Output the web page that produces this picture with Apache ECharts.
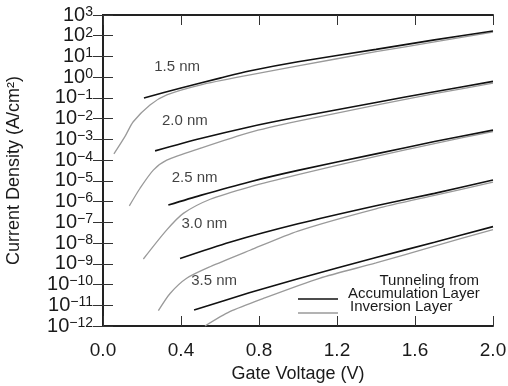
<!DOCTYPE html>
<html>
<head>
<meta charset="utf-8">
<script src="https://cdn.jsdelivr.net/npm/echarts@6/dist/echarts.min.js"></script>
<style>
html,body{margin:0;padding:0;background:#fff;}
#chart{width:508px;height:386px;}
</style>
</head>
<body>
<div id="chart"></div>
<script>
// oxide thickness labels
var thickness = ['1.5 nm', '2.0 nm', '2.5 nm', '3.0 nm', '3.5 nm'];

// accumulation layer (black), gate voltage V / current density A/cm2
var accV15 = [0.21, 0.4, 0.6, 0.75, 1.0, 1.4, 1.7, 2.0];
var accJ15 = [1.0e-1, 3.0e-1, 9.0e-1, 2.0, 5.6, 22, 63, 170];
var accV20 = [0.267, 0.5, 0.75, 1.0, 1.4, 1.7, 2.0];
var accJ20 = [2.8e-4, 1.1e-3, 4.0e-3, 1.2e-2, 6.0e-2, 2.0e-1, 6.3e-1];
var accV25 = [0.335, 0.5, 0.75, 1.0, 1.4, 1.7, 2.0];
var accJ25 = [6.8e-7, 2.0e-6, 8.9e-6, 3.2e-5, 2.0e-4, 7.9e-4, 2.8e-3];
var accV30 = [0.395, 0.65, 1.0, 1.4, 1.7, 2.0];
var accJ30 = [1.8e-9, 1.1e-8, 8.5e-8, 6.3e-7, 2.5e-6, 1.1e-5];
var accV35 = [0.467, 0.75, 1.0, 1.4, 1.7, 2.0];
var accJ35 = [5.9e-12, 4.0e-11, 1.9e-10, 2.0e-9, 1.1e-8, 6.2e-8];

// inversion layer (gray)
var invV15 = [0.056, 0.113, 0.155, 0.241, 0.327, 0.497, 0.754, 1.0, 1.4, 1.7, 2.0];
var invJ15 = [2.0e-4, 1.4e-3, 7.1e-3, 4.6e-2, 1.4e-1, 4.2e-1, 1.3, 3.5, 17, 50, 150];
var invV20 = [0.135, 0.19, 0.258, 0.327, 0.497, 0.754, 1.0, 1.4, 1.7, 2.0];
var invJ20 = [6.2e-7, 4.4e-6, 3.3e-5, 1.0e-4, 3.7e-4, 2.2e-3, 7.6e-3, 4.5e-2, 1.6e-1, 5.2e-1];
var invV25 = [0.207, 0.327, 0.412, 0.55, 0.754, 1.0, 1.4, 1.7, 2.0];
var invJ25 = [1.7e-9, 4.3e-8, 2.7e-7, 1.3e-6, 5.2e-6, 2.0e-5, 1.5e-4, 6.3e-4, 2.4e-3];
var invV30 = [0.284, 0.344, 0.429, 0.549, 0.754, 1.0, 1.4, 1.7, 2.0];
var invJ30 = [5.5e-12, 3.7e-11, 2.0e-10, 7.2e-10, 4.5e-9, 3.8e-8, 4.5e-7, 2.0e-6, 8.7e-6];
var invV35 = [0.523, 0.65, 0.82, 1.11, 1.4, 1.7, 2.0];
var invJ35 = [1.0e-12, 4.9e-12, 2.1e-11, 2.0e-10, 1.1e-9, 7.1e-9, 4.5e-8];

// where the thickness labels sit (data coords)
var labelV = [0.38, 0.42, 0.47, 0.52, 0.57];
var labelJ = [3.1, 7.8e-3, 1.4e-5, 8.3e-8, 1.5e-10];

var xTicks = ['0.0', '0.4', '0.8', '1.2', '1.6', '2.0'];
// y tick labels split over two stacked axes so none gets dropped
var yTicksEven = [1e-12, 1e-10, 1e-8, 1e-6, 1e-4, 1e-2, 1e0, 1e2];
var yTicksOdd = [1e-11, 1e-9, 1e-7, 1e-5, 1e-3, 1e-1, 1e1, 1e3];

var accV = [accV15, accV20, accV25, accV30, accV35];
var accJ = [accJ15, accJ20, accJ25, accJ30, accJ35];
var invV = [invV15, invV20, invV25, invV30, invV35];
var invJ = [invJ15, invJ20, invJ25, invJ30, invJ35];

function pairs(xs, ys) {
	return xs.map(function (x, i) { return [x, ys[i]]; });
}

var font = 'Liberation Sans, Arial, Helvetica, sans-serif';
var black = '#111';
var gray = '#9a9a9a';
var series = [];
for (var k = 0; k < thickness.length; k++) {
	series.push({
		name: 'Inversion Layer',
		type: 'line',
		data: pairs(invV[k], invJ[k]),
		symbol: 'none',
		smooth: 0.25,
		lineStyle: {color: gray, width: 1.3},
		silent: true,
		z: 2
	});
	series.push({
		name: 'Accumulation Layer',
		type: 'line',
		data: pairs(accV[k], accJ[k]),
		symbol: 'none',
		smooth: 0.25,
		lineStyle: {color: black, width: 1.6},
		silent: true,
		z: 3
	});
}
series.push({
	type: 'scatter',
	symbolSize: 0,
	silent: true,
	data: pairs(labelV, labelJ).map(function (p, i) { return {value: p, name: thickness[i]}; }),
	label: {
		show: true, position: 'inside', formatter: '{b}',
		fontFamily: font, fontSize: 15, color: '#111'
	}
});

function expOf(v) {
	return Math.round(Math.log(v) / Math.LN10);
}
function expLabel(parity) {
	return function (v) {
		var e = expOf(v);
		if (Math.abs(e % 2) !== parity) return '';
		return '{b|10}{e|' + String(e).replace('-', '\u2212') + '}';
	};
}

var frame = {lineStyle: {color: '#222', width: 2}};
var ticksIn = {inside: true, length: 10, lineStyle: {color: '#333', width: 1}};
var txt = {fontFamily: font, fontSize: 15, fill: '#1a1a1a'};
var yRich = {
	b: {fontFamily: font, fontSize: 20, color: '#1a1a1a', verticalAlign: 'bottom', lineHeight: 20},
	e: {fontFamily: font, fontSize: 14, color: '#1a1a1a', verticalAlign: 'top', lineHeight: 14, padding: [0, 0, 12, 0]}
};

var chart = echarts.init(document.getElementById('chart'));
chart.setOption({
	animation: false,
	backgroundColor: '#fff',
	grid: {left: 103, right: 15, top: 15, bottom: 60, containLabel: false, outerBoundsMode: 'none'},
	xAxis: [{
		type: 'value', min: 0, max: 2, interval: 0.4,
		axisLine: frame, axisTick: ticksIn, splitLine: {show: false},
		axisLabel: {
			margin: 15, fontFamily: font, fontSize: 19, color: '#1a1a1a',
			showMinLabel: true, showMaxLabel: true,
			formatter: function (v) { return xTicks[Math.round(v / 0.4)]; }
		},
		name: 'Gate Voltage (V)', nameLocation: 'middle', nameGap: 39,
		nameTextStyle: {fontFamily: font, fontSize: 18, color: '#1a1a1a'}
	}, {
		type: 'value', min: 0, max: 2, interval: 0.4, position: 'top',
		axisLine: frame, axisTick: ticksIn, splitLine: {show: false},
		axisLabel: {show: false}
	}],
	yAxis: [{
		type: 'log', logBase: 10, min: 1e-12, max: 1e3, interval: 1,
		axisLine: frame, axisTick: ticksIn, splitLine: {show: false},
		axisLabel: {
			margin: 10, color: '#1a1a1a', fontFamily: font,
			customValues: yTicksEven, showMinLabel: true, showMaxLabel: true,
			formatter: expLabel(0), rich: yRich
		},
		name: 'Current Density (A/cm\u00b2)', nameLocation: 'middle', nameGap: 80,
		nameTextStyle: {fontFamily: font, fontSize: 18, color: '#1a1a1a'}
	}, {
		type: 'log', logBase: 10, min: 1e-12, max: 1e3, interval: 1, position: 'right',
		axisLine: frame, axisTick: ticksIn, splitLine: {show: false},
		axisLabel: {show: false}
	}, {
		type: 'log', logBase: 10, min: 1e-12, max: 1e3, interval: 1, position: 'left', offset: 0,
		axisLine: {show: false}, axisTick: {show: false}, splitLine: {show: false},
		axisLabel: {
			margin: 10, color: '#1a1a1a', fontFamily: font,
			customValues: yTicksOdd, showMinLabel: true, showMaxLabel: true,
			formatter: expLabel(1), rich: yRich
		}
	}],
	// legend drawn by hand: header, two sample lines and their names
	graphic: [
		{type: 'text', right: 29, top: 273, style: Object.assign({text: 'Tunneling from'}, txt)},
		{type: 'line', shape: {x1: 298, y1: 299, x2: 338, y2: 299}, style: {stroke: black, lineWidth: 1.6}},
		{type: 'line', shape: {x1: 298, y1: 313, x2: 338, y2: 313}, style: {stroke: gray, lineWidth: 1.3}},
		{type: 'text', left: 348, top: 286, style: Object.assign({text: 'Accumulation Layer'}, txt)},
		{type: 'text', left: 350, top: 299, style: Object.assign({text: 'Inversion Layer'}, txt)}
	],
	series: series
});
</script>
</body>
</html>
